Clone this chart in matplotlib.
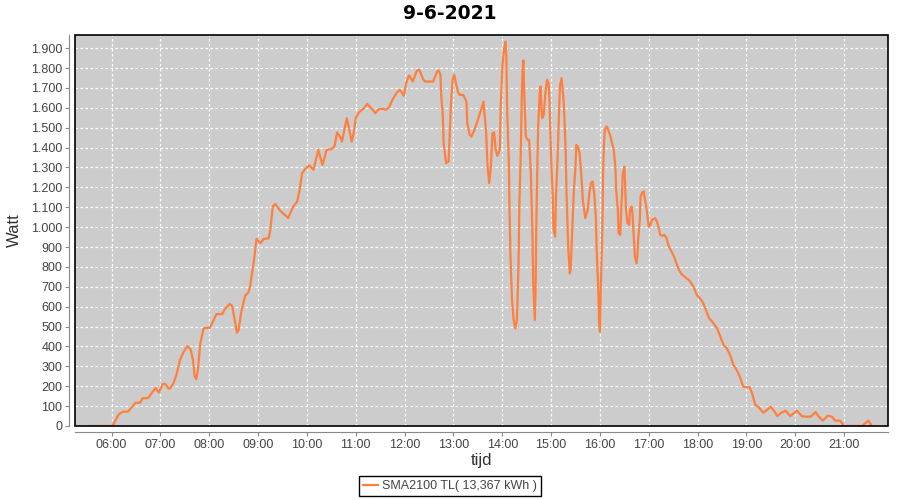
import matplotlib
matplotlib.use("Agg")
import matplotlib.pyplot as plt
from matplotlib.patches import Rectangle
from matplotlib.ticker import FuncFormatter, MultipleLocator

plt.rcParams['font.family'] = ['Liberation Sans', 'DejaVu Sans']

# ------------------------------------------------------------------
# Data
# ------------------------------------------------------------------
title = "9-6-2021"
series_name = "SMA2100 TL( 13,367 kWh )"

times = [
    "05:33", "06:01", "06:09", "06:14", "06:20", "06:27", "06:29", "06:35", "06:38", "06:45",
    "06:49", "06:54", "06:58", "07:03", "07:06", "07:10", "07:12", "07:16", "07:20", "07:24",
    "07:28", "07:33", "07:37", "07:40", "07:42", "07:44", "07:46", "07:49", "07:53", "08:01",
    "08:07", "08:09", "08:16", "08:19", "08:25", "08:28", "08:32", "08:34", "08:36", "08:39",
    "08:44", "08:48", "08:50", "08:55", "08:58", "09:03", "09:07", "09:13", "09:15", "09:18",
    "09:21", "09:27", "09:37", "09:43", "09:48", "09:51", "09:54", "09:58", "10:03", "10:08",
    "10:11", "10:14", "10:19", "10:22", "10:24", "10:30", "10:34", "10:37", "10:41", "10:43",
    "10:46", "10:49", "10:52", "10:55", "10:57", "11:00", "11:04", "11:10", "11:14", "11:18",
    "11:24", "11:28", "11:34", "11:37", "11:41", "11:45", "11:50", "11:54", "11:57", "11:59",
    "12:02", "12:05", "12:06", "12:10", "12:15", "12:18", "12:23", "12:25", "12:35", "12:40",
    "12:42", "12:44", "12:45", "12:47", "12:48", "12:49", "12:51", "12:54", "12:55", "12:57",
    "12:59", "13:01", "13:03", "13:06", "13:08", "13:12", "13:16", "13:17", "13:20", "13:22",
    "13:25", "13:29", "13:34", "13:37", "13:38", "13:40", "13:42", "13:44", "13:46", "13:48",
    "13:50", "13:52", "13:54", "13:57", "13:58", "14:00", "14:02", "14:04", "14:05", "14:06",
    "14:08", "14:09", "14:10", "14:12", "14:14", "14:16", "14:18", "14:20", "14:21", "14:23",
    "14:24", "14:25", "14:26", "14:27", "14:29", "14:31", "14:33", "14:35", "14:37", "14:38",
    "14:40", "14:41", "14:42", "14:44", "14:46", "14:47", "14:49", "14:51", "14:53", "14:55",
    "14:57", "14:58", "15:00", "15:02", "15:03", "15:05", "15:06", "15:08", "15:10", "15:11",
    "15:13", "15:15", "15:16", "15:18", "15:19", "15:21", "15:23", "15:24", "15:26", "15:28",
    "15:30", "15:31", "15:33", "15:35", "15:37", "15:39", "15:41", "15:42", "15:45", "15:47",
    "15:49", "15:51", "15:53", "15:55", "15:56", "15:58", "15:59", "16:00", "16:01", "16:03",
    "16:04", "16:05", "16:06", "16:08", "16:09", "16:13", "16:15", "16:17", "16:19", "16:20",
    "16:22", "16:23", "16:25", "16:26", "16:27", "16:28", "16:30", "16:31", "16:32", "16:34",
    "16:36", "16:37", "16:39", "16:40", "16:42", "16:43", "16:45", "16:46", "16:47", "16:49",
    "16:50", "16:52", "16:54", "16:55", "16:57", "16:59", "17:00", "17:02", "17:04", "17:08",
    "17:10", "17:13", "17:14", "17:17", "17:19", "17:22", "17:24", "17:27", "17:31", "17:34",
    "17:37", "17:40", "17:45", "17:50", "17:55", "17:59", "18:03", "18:06", "18:09", "18:14",
    "18:18", "18:24", "18:28", "18:32", "18:36", "18:40", "18:44", "18:48", "18:52", "18:56",
    "18:59", "19:04", "19:07", "19:11", "19:15", "19:21", "19:25", "19:30", "19:36", "19:38",
    "19:43", "19:48", "19:54", "20:02", "20:08", "20:12", "20:19", "20:25", "20:29", "20:34",
    "20:40", "20:45", "20:49", "20:55", "21:00", "21:22", "21:30", "21:34",
]

watts = [
    0, 0, 60, 72, 72, 105, 117, 117, 139, 141,
    164, 191, 168, 211, 211, 188, 190, 215, 262, 332,
    369, 402, 386, 332, 251, 235, 282, 416, 491, 495,
    547, 563, 563, 587, 614, 604, 517, 469, 483, 567,
    655, 671, 698, 835, 941, 919, 941, 944, 986, 1103,
    1117, 1083, 1046, 1103, 1128, 1187, 1271, 1293, 1311, 1288,
    1338, 1388, 1313, 1355, 1388, 1392, 1408, 1476, 1452, 1430,
    1489, 1548, 1489, 1430, 1464, 1548, 1578, 1598, 1620, 1603,
    1573, 1593, 1595, 1590, 1603, 1640, 1674, 1690, 1674, 1660,
    1724, 1761, 1761, 1732, 1787, 1791, 1741, 1732, 1732, 1782,
    1787, 1766, 1665, 1556, 1422, 1388, 1321, 1330, 1422, 1623,
    1741, 1766, 1724, 1674, 1665, 1665, 1631, 1523, 1464, 1455,
    1480, 1526, 1590, 1631, 1573, 1489, 1304, 1221, 1304, 1472,
    1476, 1388, 1358, 1388, 1590, 1799, 1891, 1933, 1858, 1590,
    1338, 1078, 869, 634, 533, 491, 533, 818, 1103, 1413,
    1665, 1791, 1838, 1674, 1455, 1439, 1439, 1288, 986, 718,
    533, 701, 1053, 1489, 1674, 1707, 1548, 1564, 1674, 1741,
    1724, 1640, 1355, 1153, 986, 952, 1153, 1347, 1606, 1715,
    1749, 1656, 1590, 1372, 1170, 902, 768, 785, 986, 1187,
    1304, 1413, 1405, 1372, 1271, 1137, 1078, 1045, 1087, 1170,
    1221, 1229, 1170, 1053, 885, 684, 517, 474, 684, 986,
    1288, 1422, 1489, 1506, 1502, 1455, 1422, 1388, 1304, 1187,
    1087, 969, 961, 1070, 1153, 1263, 1304, 1221, 1087, 1019,
    1011, 1087, 1103, 1070, 927, 852, 818, 852, 936, 1036,
    1153, 1174, 1179, 1145, 1103, 1036, 1002, 1011, 1036, 1045,
    1028, 986, 961, 956, 961, 944, 910, 885, 852, 818,
    785, 765, 748, 731, 701, 659, 642, 625, 597, 542,
    525, 491, 449, 407, 391, 357, 307, 282, 248, 198,
    195, 195, 164, 106, 94, 67, 80, 97, 64, 50,
    67, 77, 50, 77, 50, 47, 47, 70, 47, 27,
    52, 47, 27, 27, 0, 0, 27, 0,
]

# minutes since midnight
minutes = [int(t[:2]) * 60 + int(t[3:]) for t in times]

# ------------------------------------------------------------------
# Figure
# ------------------------------------------------------------------
fig = plt.figure(figsize=(9, 5), dpi=100, facecolor='white')
ax = fig.add_axes([75 / 900, 74 / 500, 813 / 900, 391 / 500])
ax.set_facecolor('#CCCCCC')

line, = ax.plot(minutes, watts, color='#FF7F3F', lw=1.6, label=series_name)

ax.set_xlim(315, 1314)
ax.set_ylim(0, 1966)

ax.xaxis.set_major_locator(MultipleLocator(60))
ax.yaxis.set_major_locator(MultipleLocator(100))
ax.xaxis.set_major_formatter(FuncFormatter(lambda m, p: f"{int(m) // 60:02d}:{int(m) % 60:02d}"))
ax.yaxis.set_major_formatter(FuncFormatter(lambda v, p: f"{int(v):,}".replace(',', '.')))

ax.grid(True, color='white', linestyle=(0, (2, 2)), linewidth=0.9)
ax.set_axisbelow(True)

# axis lines offset from the plot, like JFreeChart
for side in ['top', 'right']:
    ax.spines[side].set_visible(False)
for side in ['left', 'bottom']:
    ax.spines[side].set_position(('outward', 4))
    ax.spines[side].set_color('#888888')
ax.add_patch(Rectangle((0, 0), 1, 1, transform=ax.transAxes, fill=False,
                       edgecolor='black', lw=1.2, clip_on=False, zorder=5))

ax.tick_params(axis='both', length=3, width=0.8, color='#888888',
               labelcolor='#444444', labelsize=9, pad=2)

ax.set_ylabel('Watt', fontsize=12, color='#333333')
ax.yaxis.set_label_coords(-0.065, 0.5)
ax.set_xlabel('tijd', fontsize=12, color='#333333')
ax.xaxis.set_label_coords(0.5, -0.07)

fig.text(0.5, 1 - 13.5 / 500, title, ha='center', va='center',
         fontsize=13.5, fontweight='bold', family='DejaVu Sans')

fig.legend(handles=[line], loc='center', bbox_to_anchor=(0.5, 1 - 486 / 500),
           frameon=True, fancybox=False, edgecolor='black', framealpha=1,
           fontsize=9, handlelength=1.2, handletextpad=0.3, borderpad=0.35,
           labelcolor='#444444')

fig.savefig('out.png', dpi=100)
